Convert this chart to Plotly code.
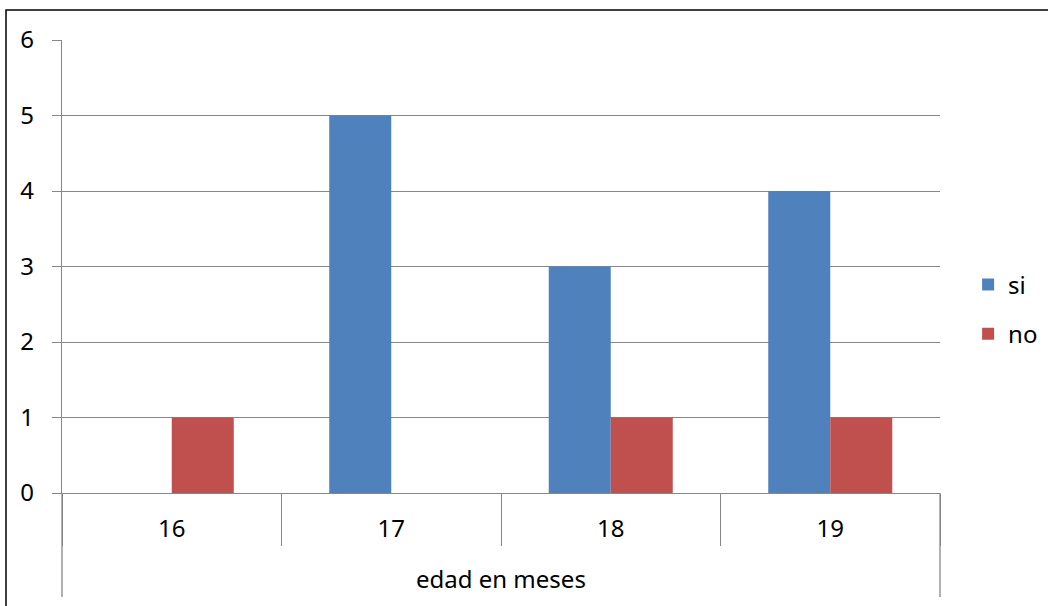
import plotly.graph_objects as go

categories = ["16", "17", "18", "19"]
si_values = [0, 5, 3, 4]
no_values = [1, 0, 1, 1]
y_ticks = [0, 1, 2, 3, 4, 5, 6]
x_title = "edad en meses"

FONT = "Noto Sans"
FS = 24
GRID = "#878787"

W, H = 1048, 606
L, R, T, B = 62, 108, 40, 113
PW, PH = W - L - R, H - T - B

fig = go.Figure()
fig.add_trace(go.Bar(name="si", x=categories, y=si_values, marker=dict(color="#4F81BD", line=dict(width=0)), legendgroup="a"))
fig.add_trace(go.Bar(name="no", x=categories, y=no_values, marker=dict(color="#C0504D", line=dict(width=0)), legendgroup="b"))

shapes = []
# outer long separators of the category axis
for xp in (0, 1):
    shapes.append(dict(type="line", xref="paper", yref="paper", x0=xp, x1=xp, y0=0, y1=-104 / PH,
                       line=dict(color=GRID, width=1.3)))
# chart border
shapes.append(dict(type="rect", xref="paper", yref="paper",
                   x0=(6 - L) / PW, x1=(W + 20 - L) / PW,
                   y0=-(H + 20 - T - PH) / PH, y1=1 + (T - 10) / PH,
                   line=dict(color="black", width=1.5)))

fig.update_layout(
    width=W, height=H,
    margin=dict(l=L, r=R, t=T, b=B, autoexpand=False),
    paper_bgcolor="white", plot_bgcolor="white",
    barmode="group", bargap=0.435, bargroupgap=0,
    font=dict(family=FONT, size=FS, color="black"),
    showlegend=True,
    legend=dict(x=1.032, y=0.509, xanchor="left", yanchor="top",
                traceorder="grouped", tracegroupgap=15,
                font=dict(size=FS, family=FONT)),
    shapes=shapes,
    annotations=[dict(text=x_title, xref="paper", yref="paper", x=0.5, y=-85 / PH,
                      showarrow=False, xanchor="center", yanchor="middle",
                      font=dict(size=FS, family=FONT))],
)
fig.update_xaxes(type="category", showline=True, linecolor=GRID, linewidth=1.3,
                 showgrid=False, ticks="outside", tickson="boundaries", ticklen=52,
                 tickcolor=GRID, tickwidth=1.3, ticklabelstandoff=14)
fig.update_yaxes(range=[0, 6], tickvals=y_ticks, showline=True, linecolor=GRID, linewidth=1.3,
                 showgrid=True, gridcolor=GRID, gridwidth=1.3, zeroline=False,
                 ticks="outside", ticklen=9, tickcolor=GRID, tickwidth=1.3,
                 ticklabelstandoff=13)

fig.write_html("out.html", config={"displayModeBar": False},
               post_script="document.body.style.margin='0px';document.body.style.overflow='hidden';")
